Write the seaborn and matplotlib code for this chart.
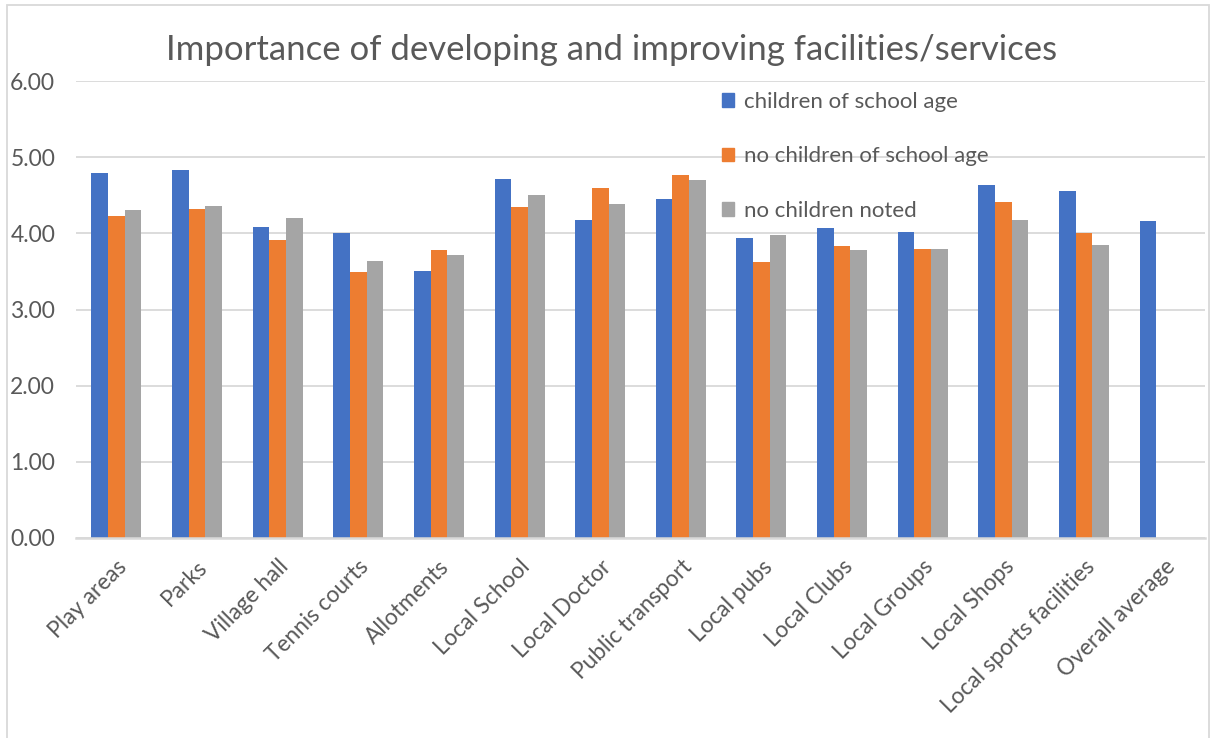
import matplotlib
matplotlib.use("Agg")
import matplotlib.pyplot as plt
import matplotlib.patches as mpatches
import seaborn as sns
import pandas as pd
import numpy as np

categories = ["Play areas", "Parks", "Village hall", "Tennis courts", "Allotments",
              "Local School", "Local Doctor", "Public transport", "Local pubs",
              "Local Clubs", "Local Groups", "Local Shops", "Local sports facilities",
              "Overall average"]
children_school_age = [4.79, 4.83, 4.08, 4.00, 3.50, 4.71, 4.17, 4.45, 3.94, 4.07, 4.02, 4.64, 4.55, 4.16]
no_children_school_age = [4.23, 4.32, 3.91, 3.49, 3.78, 4.34, 4.59, 4.77, 3.63, 3.84, 3.79, 4.41, 4.00, np.nan]
no_children_noted = [4.30, 4.36, 4.20, 3.64, 3.72, 4.50, 4.39, 4.70, 3.98, 3.78, 3.80, 4.18, 3.85, np.nan]
series_names = ["children of school age", "no children of school age", "no children noted"]
colors = ["#4472C4", "#ED7D31", "#A5A5A5"]
yticks = [0, 1, 2, 3, 4, 5, 6]

rows = []
for name, vals in zip(series_names, [children_school_age, no_children_school_age, no_children_noted]):
    for c, v in zip(categories, vals):
        rows.append({"category": c, "group": name, "value": v})
df = pd.DataFrame(rows)

sns.set_theme(style="white")
plt.rcParams['font.family'] = ['Lato', 'DejaVu Sans']
text_color = "#595959"

fig = plt.figure(figsize=(12.11, 7.38), dpi=100)
W, H = 1211, 738
ax = fig.add_axes([76 / W, 1 - 538 / H, (1205 - 76) / W, (538 - 81) / H])

sns.barplot(data=df, x="category", y="value", hue="group", order=categories,
            hue_order=series_names, palette=colors, width=0.62, ax=ax,
            saturation=1, errorbar=None, linewidth=0)

ax.set_ylim(0, 6)
ax.set_xlim(-0.5, len(categories) - 0.5)
ax.set_yticks(yticks)
ax.set_yticklabels([f"{t:.2f}" for t in yticks], fontsize=16.5, color=text_color)
ax.yaxis.grid(True, color="#D9D9D9", linewidth=1.3)
ax.set_axisbelow(True)
for s in ["top", "right", "left"]:
    ax.spines[s].set_visible(False)
ax.spines["bottom"].set_color("#D9D9D9")
ax.spines["bottom"].set_linewidth(1.8)
ax.tick_params(axis="y", length=0, pad=15)
ax.tick_params(axis="x", length=0, pad=13)
ax.set_xlabel("")
ax.set_ylabel("")
ax.set_xticks(range(len(categories)))
ax.set_xticklabels(categories, rotation=45, ha="right", rotation_mode="anchor",
                   fontsize=16.3, color=text_color)

fig.text(611.5 / W, 1 - 50 / H, "Importance of developing and improving facilities/services",
         ha="center", va="center", fontsize=25, color=text_color)

handles = [mpatches.Patch(color=c, label=n) for c, n in zip(colors, series_names)]
ax.get_legend().remove()
fig.legend(handles=handles, loc="upper left", bbox_to_anchor=(722 / W, 1 - 92 / H),
           frameon=False, fontsize=16, labelcolor=text_color, handlelength=0.55,
           handleheight=0.55, handletextpad=0.45, labelspacing=1.55, borderpad=0,
           borderaxespad=0)

border = mpatches.Rectangle((7 / W, -0.01), (1209 - 7) / W, 1 - 5 / H + 0.01,
                            transform=fig.transFigure, fill=False,
                            edgecolor="#D9D9D9", linewidth=1.3)
fig.patches.append(border)

fig.savefig("out.png", dpi=100)
